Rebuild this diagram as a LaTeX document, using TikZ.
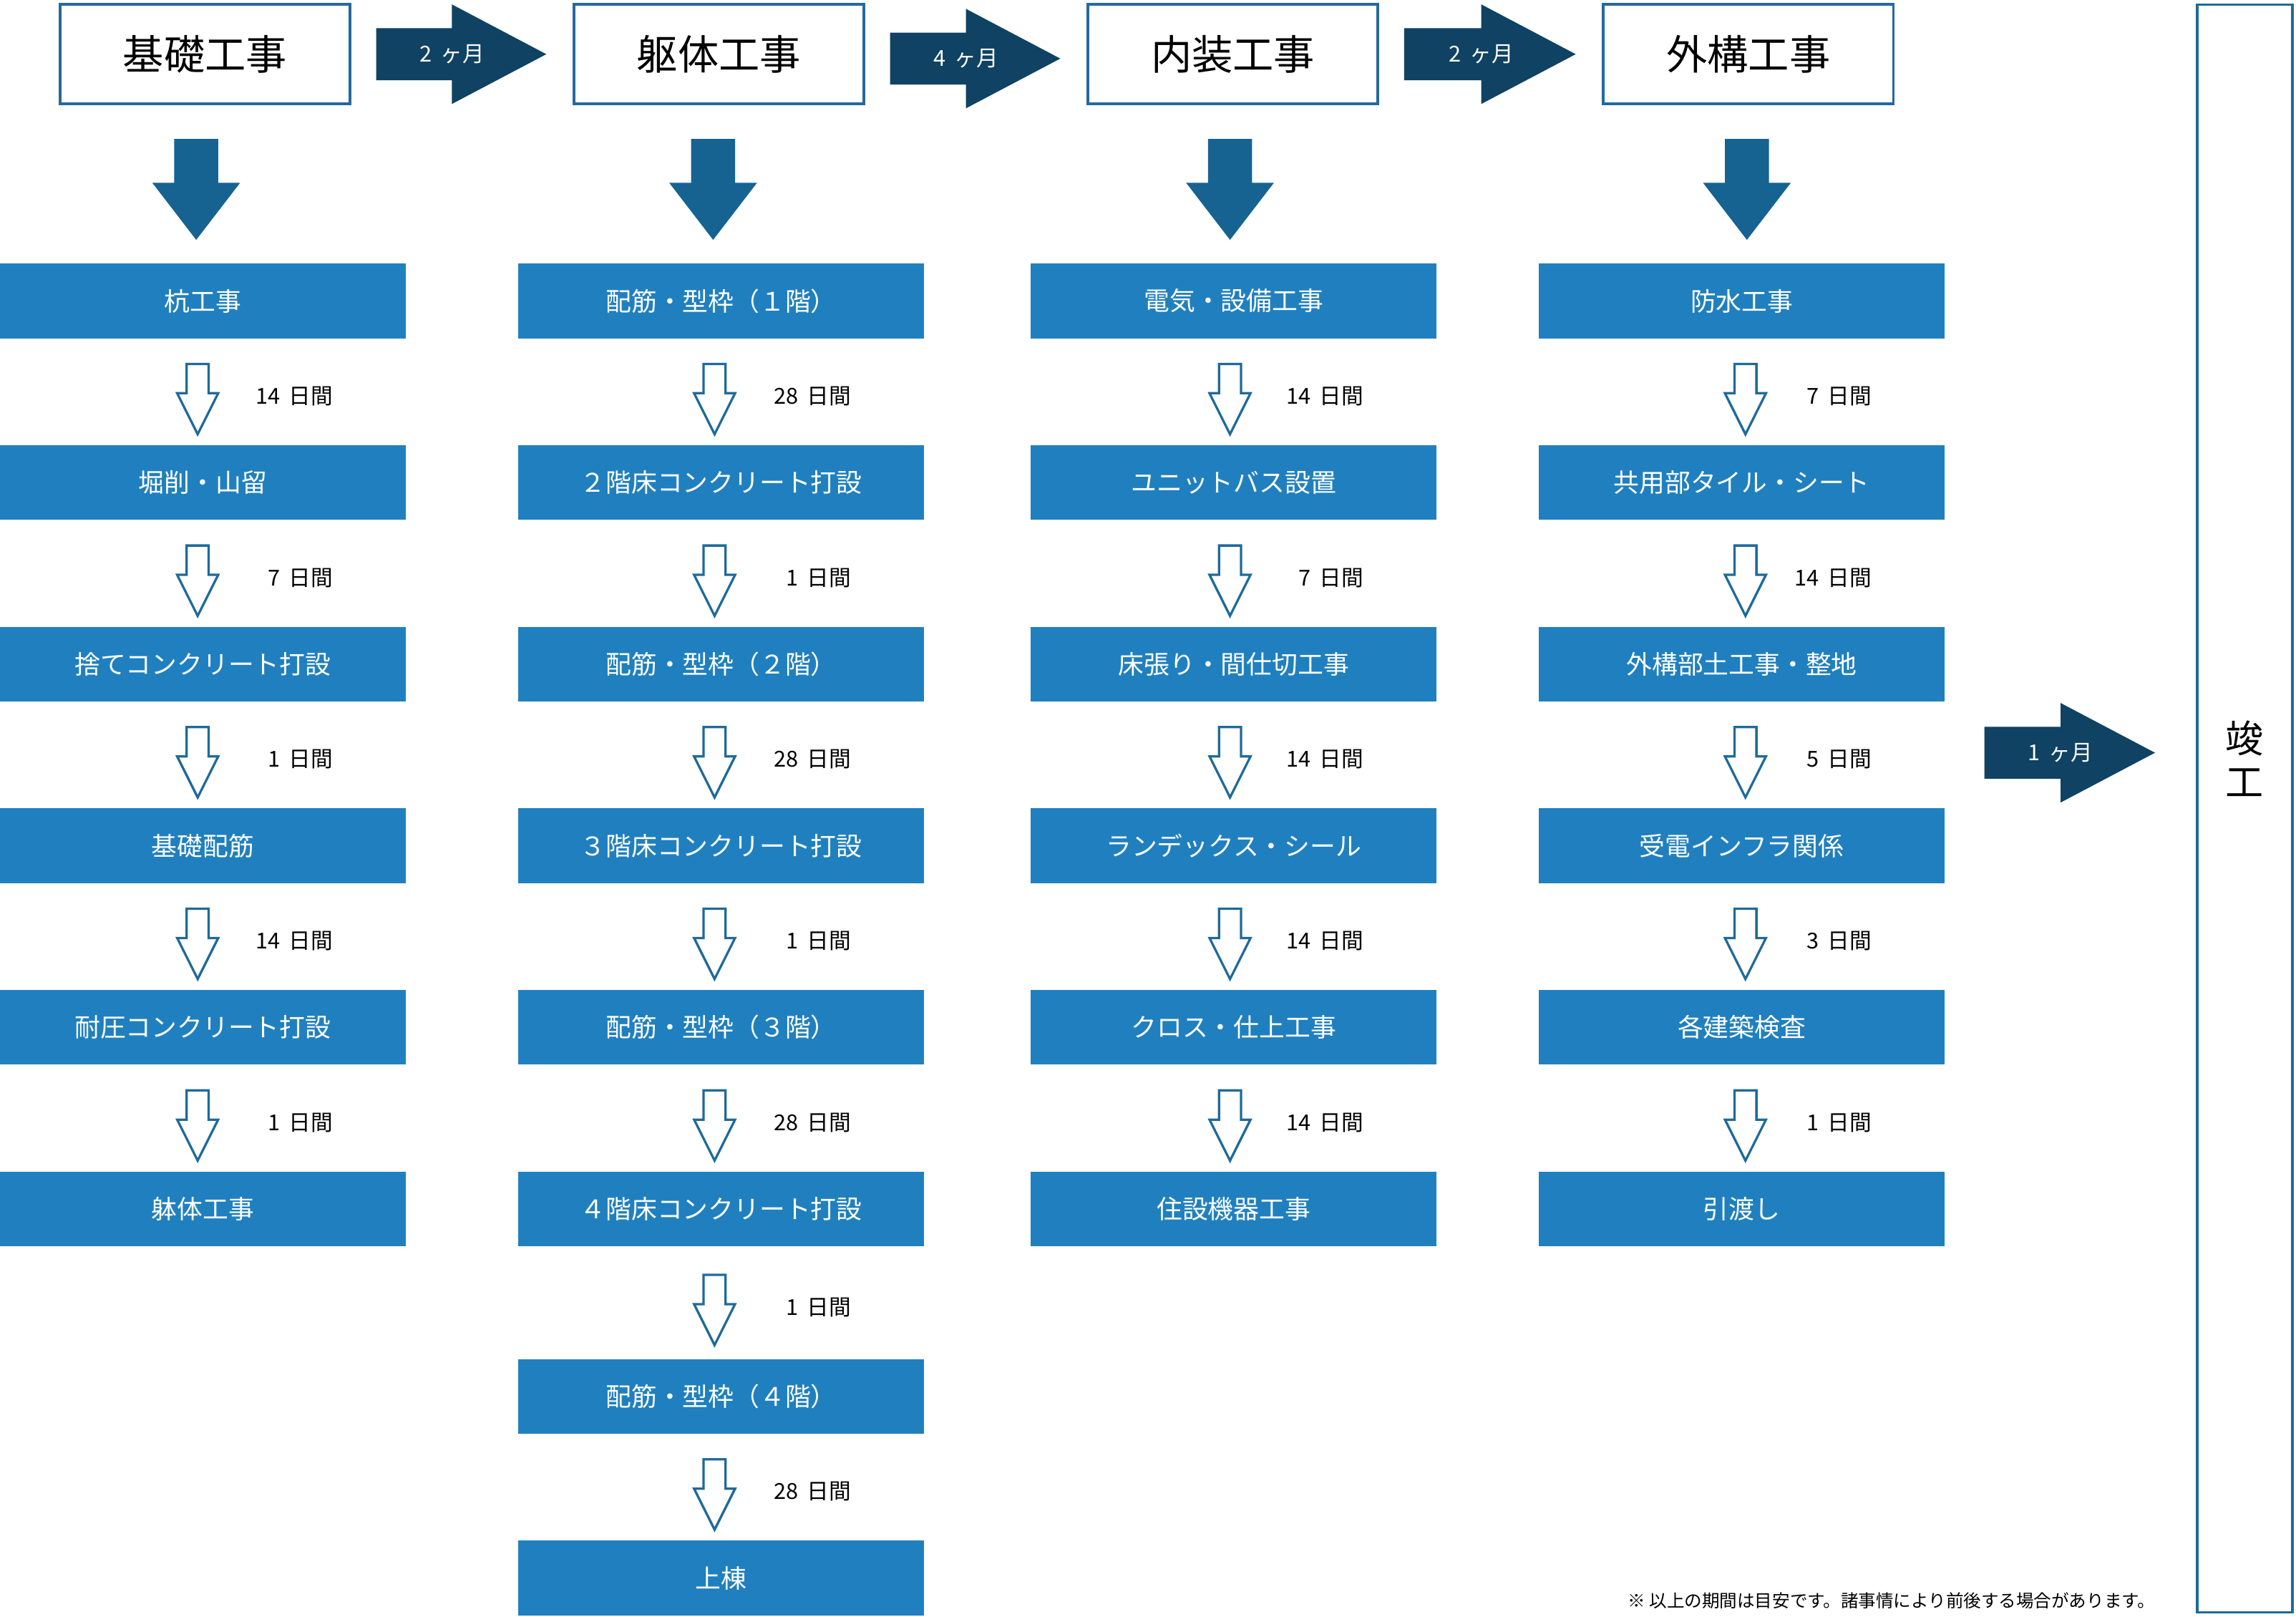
\documentclass[tikz,border=0pt]{standalone}
\usepackage{fontspec}
\setmainfont{Noto Sans CJK JP}
\usetikzlibrary{calc}
\definecolor{boxblue}{HTML}{2080BF}
\definecolor{navyblue}{HTML}{0F4263}
\definecolor{downblue}{HTML}{166392}
\definecolor{lineblue}{HTML}{1F6A9A}
\definecolor{hdrblue}{HTML}{2568A0}

% hollow arrow + duration label between two task boxes
\newcommand\hollowlink[4]{%
  \coordinate (hm) at ($(#1.south)!0.5!(#2.north)$);
  \coordinate (hc) at ($(hm)+(#4,2.5)$);
  \draw[hollowarr] ($(hc)+(-7.5,-21.5)$) -- ($(hc)+(7.5,-21.5)$) -- ($(hc)+(7.5,-1.5)$)
     -- ($(hc)+(14,-1.5)$) -- ($(hc)+(0,26.5)$) -- ($(hc)+(-14,-1.5)$)
     -- ($(hc)+(-7.5,-1.5)$) -- cycle;
  \node[dur, anchor=east] at ($(hm)+(89,3)$) {#3};
}
% big filled down arrow from header to first task
\newcommand\bigdown[3]{%
  \coordinate (bt) at ($(#1.south)+(#3,23)$);
  \coordinate (bb) at ($(bt |- #2.north)+(0,-16)$);
  \fill[bigarr] ($(bt)+(-15,0)$) -- ($(bt)+(15,0)$) -- ($(bb)+(15,-39)$)
     -- ($(bb)+(30,-39)$) -- (bb) -- ($(bb)+(-30,-39)$) -- ($(bb)+(-15,-39)$) -- cycle;
}
% navy right arrow from coordinate (rs) to coordinate (re)
\newcommand\navyarrow[1]{%
  \fill[navyarr] ($(rs)+(0,-17.75)$) -- ($(re)+(-64.5,-17.75)$) -- ($(re)+(-64.5,-34)$)
     -- (re) -- ($(re)+(-64.5,34)$) -- ($(re)+(-64.5,17.75)$) -- ($(rs)+(0,17.75)$) -- cycle;
  \node[arrtext] at ($(re)+(-64.5,0)$) {#1};
}
\newcommand\dd[1]{#1\hspace{0.4em}日間}
\newcommand\mo[1]{#1\hspace{0.4em}ヶ月}

\begin{document}
\begin{tikzpicture}[x=1pt,y=-1pt,
 task/.style={fill=boxblue, text=white, minimum width=277pt, minimum height=51pt,
   inner sep=0pt, font=\fontsize{17.5}{20}\selectfont},
 header/.style={draw=hdrblue, line width=1.8pt, fill=white, minimum width=198pt,
   minimum height=68pt, inner sep=0pt, font=\fontsize{28}{32}\selectfont},
 hollowarr/.style={draw=lineblue, line width=1.6pt, fill=white, line join=miter},
 dur/.style={font=\fontsize{15}{17}\selectfont, text=black, inner sep=0pt},
 bigarr/.style={fill=downblue},
 navyarr/.style={fill=navyblue},
 arrtext/.style={text=white, font=\fontsize{15}{17}\selectfont, inner sep=0pt}
]
\useasboundingbox (0,0) rectangle (1568,1104);

% headers
\node[header] (h1) at (140,37) {基礎工事};
\node[header] (h2) at (491,37) {躯体工事};
\node[header] (h3) at (842,37) {内装工事};
\node[header] (h4) at (1194,37) {外構工事};

% completion
\node[draw=lineblue, line width=1.6pt, fill=white, minimum width=65pt,
      minimum height=1098pt, inner sep=0pt] (done) at (1533,552) {};
\node[font=\fontsize{26}{30}\selectfont, align=center, inner sep=0pt] (donelabel) at (1533,518) {竣\\工};

% column 1
\node[task] (a1) at (138.5,205.5) {杭工事};
\node[task] (a2) at (138.5,329.5) {堀削・山留};
\node[task] (a3) at (138.5,453.5) {捨てコンクリート打設};
\node[task] (a4) at (138.5,577.5) {基礎配筋};
\node[task] (a5) at (138.5,701.5) {耐圧コンクリート打設};
\node[task] (a6) at (138.5,825.5) {躰体工事};

% column 2
\node[task] (b1) at (492.5,205.5) {配筋・型枠（１階）};
\node[task] (b2) at (492.5,329.5) {２階床コンクリート打設};
\node[task] (b3) at (492.5,453.5) {配筋・型枠（２階）};
\node[task] (b4) at (492.5,577.5) {３階床コンクリート打設};
\node[task] (b5) at (492.5,701.5) {配筋・型枠（３階）};
\node[task] (b6) at (492.5,825.5) {４階床コンクリート打設};
\node[task] (b7) at (492.5,953.5) {配筋・型枠（４階）};
\node[task] (b8) at (492.5,1077.5) {上棟};

% column 3
\node[task] (c1) at (842.5,205.5) {電気・設備工事};
\node[task] (c2) at (842.5,329.5) {ユニットバス設置};
\node[task] (c3) at (842.5,453.5) {床張り・間仕切工事};
\node[task] (c4) at (842.5,577.5) {ランデックス・シール};
\node[task] (c5) at (842.5,701.5) {クロス・仕上工事};
\node[task] (c6) at (842.5,825.5) {住設機器工事};

% column 4
\node[task] (d1) at (1189.5,205.5) {防水工事};
\node[task] (d2) at (1189.5,329.5) {共用部タイル・シート};
\node[task] (d3) at (1189.5,453.5) {外構部土工事・整地};
\node[task] (d4) at (1189.5,577.5) {受電インフラ関係};
\node[task] (d5) at (1189.5,701.5) {各建築検査};
\node[task] (d6) at (1189.5,825.5) {引渡し};

% big down arrows
\bigdown{h1}{a1}{-6}
\bigdown{h2}{b1}{-4}
\bigdown{h3}{c1}{-2}
\bigdown{h4}{d1}{-1}

% hollow links
\hollowlink{a1}{a2}{\dd{14}}{-3.5}
\hollowlink{a2}{a3}{\dd{7}}{-3.5}
\hollowlink{a3}{a4}{\dd{1}}{-3.5}
\hollowlink{a4}{a5}{\dd{14}}{-3.5}
\hollowlink{a5}{a6}{\dd{1}}{-3.5}

\hollowlink{b1}{b2}{\dd{28}}{-4.5}
\hollowlink{b2}{b3}{\dd{1}}{-4.5}
\hollowlink{b3}{b4}{\dd{28}}{-4.5}
\hollowlink{b4}{b5}{\dd{1}}{-4.5}
\hollowlink{b5}{b6}{\dd{28}}{-4.5}
\hollowlink{b6}{b7}{\dd{1}}{-4.5}
\hollowlink{b7}{b8}{\dd{28}}{-4.5}

\hollowlink{c1}{c2}{\dd{14}}{-2.5}
\hollowlink{c2}{c3}{\dd{7}}{-2.5}
\hollowlink{c3}{c4}{\dd{14}}{-2.5}
\hollowlink{c4}{c5}{\dd{14}}{-2.5}
\hollowlink{c5}{c6}{\dd{14}}{-2.5}

\hollowlink{d1}{d2}{\dd{7}}{2.5}
\hollowlink{d2}{d3}{\dd{14}}{2.5}
\hollowlink{d3}{d4}{\dd{5}}{2.5}
\hollowlink{d4}{d5}{\dd{3}}{2.5}
\hollowlink{d5}{d6}{\dd{1}}{2.5}

% navy arrows between phases
\coordinate (rs) at ($(h1.east)+(17,0)$);
\coordinate (re) at ($(h2.west |- rs)+(-18,0)$);
\navyarrow{\mo{2}}
\coordinate (rs) at ($(h2.east)+(17,3)$);
\coordinate (re) at ($(h3.west |- rs)+(-18,0)$);
\navyarrow{\mo{4}}
\coordinate (rs) at ($(h3.east)+(17,0)$);
\coordinate (re) at ($(h4.west |- rs)+(-18,0)$);
\navyarrow{\mo{2}}
\coordinate (rs) at ($($(d3.east)!0.5!(d4.east)$)+(27,-1.5)$);
\coordinate (re) at ($(done.west |- rs)+(-28,0)$);
\navyarrow{\mo{1}}

% footnote
\node[anchor=east, font=\fontsize{12}{14}\selectfont, inner sep=0pt] (note) at (1472,1093)
  {※ 以上の期間は目安です。諸事情により前後する場合があります。};
\end{tikzpicture}
\end{document}
